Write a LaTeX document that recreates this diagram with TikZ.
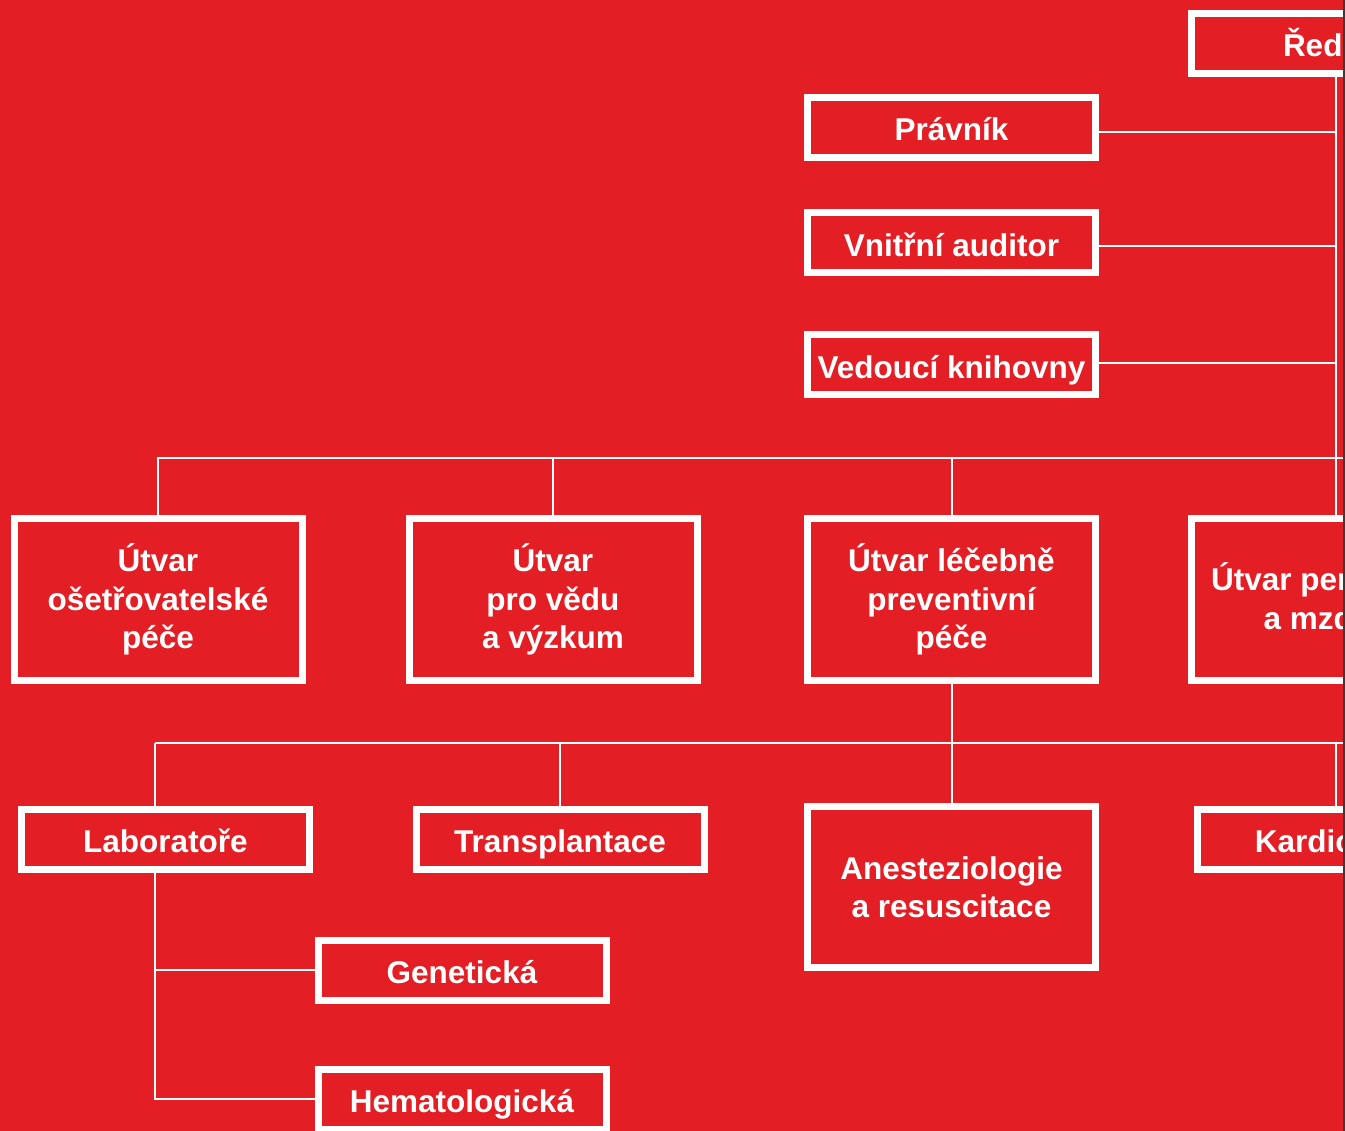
\documentclass[tikz,border=0pt]{standalone}
\usepackage{fontspec}
\setmainfont{Liberation Sans}
\usetikzlibrary{calc}
\definecolor{bgred}{HTML}{E31E24}
\definecolor{edge}{HTML}{3A3A3A}
\begin{document}
\begin{tikzpicture}[x=1pt,y=-1pt,
  base/.style={draw=white,line width=7pt,fill=bgred,text=white,inner sep=0pt,
    minimum width=288pt,minimum height=60pt,align=center,
    font=\fontsize{31.5}{38.5}\selectfont\bfseries},
  box/.style={base,text height=26.5pt,text depth=0pt},
  tallbox/.style={base,minimum height=162pt},
  conn/.style={draw=white,line width=2pt}]
\useasboundingbox (0,0) rectangle (1345,1131);
\clip (0,0) rectangle (1345,1131);
\fill[bgred] (0,0) rectangle (1345,1131);
% coordinates
\coordinate (trunk) at (1336,0);
\coordinate (lx) at (154.5,0);
\coordinate (busA) at (1345,458);
\coordinate (busB) at (1345,743);
\coordinate (busBl) at (154.5,743);
% bus lines drawn first
\draw[conn] (157,458) coordinate (busAl) -- (busA);
\draw[conn] (busBl) -- (busB);
% nodes
\node[box] (red) at (1335.5,43.5) {Ředitel};
\node[box] (prav) at (951.5,127.5) {Právník};
\node[box] (vnit) at (951.5,243) {Vnitřní auditor};
\node[box] (ved) at (951.5,365) {Vedoucí knihovny};
\node[tallbox] (u1) at (158,599.5) {Útvar\\ošetřovatelské\\péče};
\node[tallbox] (u2) at (553,599.5) {Útvar\\pro vědu\\a výzkum};
\node[tallbox] (u3) at (951.5,599.5) {Útvar léčebně\\preventivní\\péče};
\node[tallbox] (u4) at (1335.5,599.5) {Útvar personální\\a mzdový};
\node[box] (lab) at (165.5,839.5) {Laboratoře};
\node[box] (trans) at (560,839.5) {Transplantace};
\node[tallbox,minimum height=161pt] (anest) at (951.5,887) {Anesteziologie\\a resuscitace};
\node[box] (kard) at (1341.5,839.5) {Kardiologie};
\node[box] (gen) at (462,970) {Genetická};
\node[box] (hem) at (462,1099) {Hematologická};
% connectors
\draw[conn] (red.south -| trunk) -- (u4.north -| trunk);
\draw[conn] ($(prav.east)+(0,4.5)$) coordinate (p1) -- (p1 -| trunk);
\draw[conn] ($(vnit.east)+(0,3)$) coordinate (v1) -- (v1 -| trunk);
\draw[conn] ($(ved.east)+(0,-2)$) coordinate (k1) -- (k1 -| trunk);
\draw[conn] (u1.north) -- (u1.north |- busA);
\draw[conn] (u2.north) -- (u2.north |- busA);
\draw[conn] (u3.north) -- (u3.north |- busA);
\draw[conn] (u3.south) -- (anest.north);
\draw[conn] (busBl) -- (lab.north -| lx);
\draw[conn] (trans.north) -- (trans.north |- busB);
\draw[conn] (kard.north -| trunk) -- (trunk |- busB);
\draw[conn] (lab.south -| lx) -- (lx |- hem.west) -- (hem.west);
\draw[conn] (lx |- gen.west) -- (gen.west);
% dark right edge
\draw[edge,line width=2.5pt] (1344,0) -- (1344,1131);
\end{tikzpicture}
\end{document}
